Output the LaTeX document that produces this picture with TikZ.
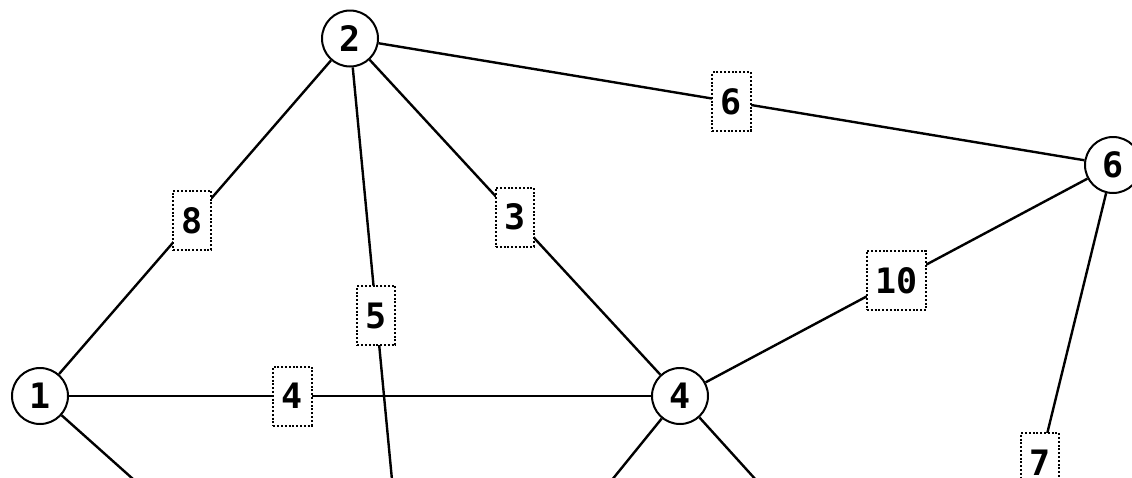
\documentclass[tikz,border=0pt]{standalone}
\usepackage{fontspec}
\setmonofont{DejaVu Sans Mono}
\usepackage{tikz}

\begin{document}
\begin{tikzpicture}[x=1pt,y=-1pt,
    every node/.style={font=\ttfamily\bfseries\fontsize{35}{35}\selectfont},
    vertex/.style={draw,circle,fill=white,line width=2pt,minimum size=56pt,inner sep=0pt},
    wt/.style={draw,fill=white,line width=2pt,dash pattern=on 2pt off 1.8pt,
      inner xsep=8.5pt,inner ysep=0pt,minimum height=59pt}]
  \useasboundingbox (0,0) rectangle (1132,477);
  \clip (0,0) rectangle (1132,477);

  \node (1)[vertex] at (40,396)   { 1 };
  \node (2)[vertex] at (350,38.5) { 2 };
  \node (4)[vertex] at (680,396)  { 4 };
  \node (6)[vertex] at (1113,165) { 6 };

  % ends of the edges that leave the picture
  \coordinate (1s) at (310,637);
  \coordinate (2s) at (400,564);
  \coordinate (4w) at (517,597);
  \coordinate (4e) at (862,597);
  \coordinate (6s) at (974,732);

  \draw[line width=2.4pt] (1) -- node[wt,pos=.49] {8} (2);
  \draw[line width=2.4pt] (2) -- node[wt] {3} (4);
  \draw[line width=2.4pt] (2) -- node[wt] {6} (6);
  \draw[line width=2.4pt] (4) -- node[wt] {10} (6);
  \draw[line width=2.4pt] (1) -- node[wt,pos=.384] {4} (4);
  \draw[line width=2.4pt] (2) -- node[wt] {5} (2s);
  \draw[line width=2.4pt] (6) -- node[wt] {7} (6s);
  \draw[line width=2.4pt] (1) -- (1s);
  \draw[line width=2.4pt] (4) -- (4w);
  \draw[line width=2.4pt] (4) -- (4e);
\end{tikzpicture}
\end{document}
